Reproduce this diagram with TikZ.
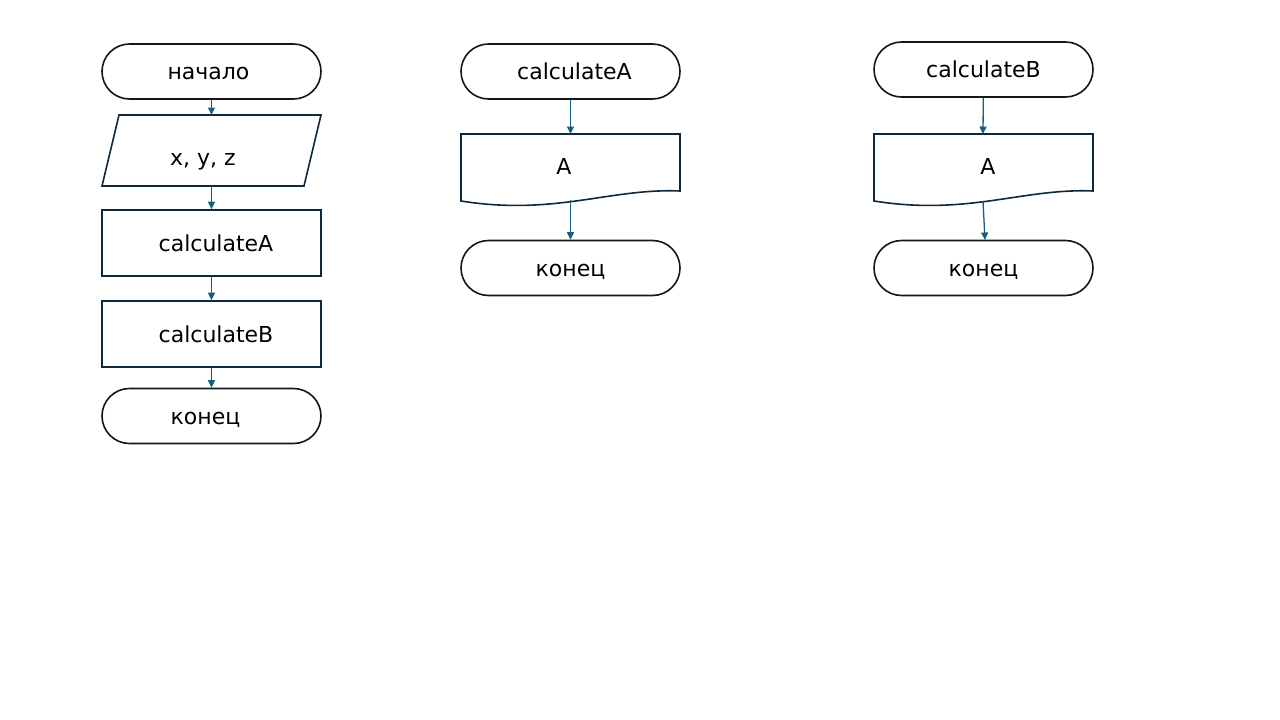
\documentclass[tikz,border=0pt]{standalone}
\usepackage{fontspec}
\setmainfont{DejaVu Sans}
\usetikzlibrary{arrows.meta}

\definecolor{boxline}{HTML}{10293A}
\definecolor{termline}{HTML}{161616}
\definecolor{flowarrow}{HTML}{156082}

\tikzset{
	terminal/.style = {draw = termline, line width = 1.6pt, rounded corners = 27.5pt, minimum width = 219pt, minimum height = 55pt, inner sep = 0pt},
	process/.style = {draw = boxline, line width = 1.6pt, minimum width = 219pt, minimum height = 66pt, inner sep = 0pt},
	shapeline/.style = {draw = boxline, line width = 1.6pt, line join = miter},
	flow/.style = {draw = flowarrow, line width = 1.3pt, -{Triangle[length = 7.5pt, width = 7pt]}},
	txt/.style = {inner sep = 0pt},
}

\begin{document}
\begin{tikzpicture}[x = 1pt, y = -1pt, every node/.append style = {font = \fontsize{22}{26}\selectfont, text height = 18pt, text depth = 2pt}]
			\useasboundingbox (0,0) rectangle (1280,720);

			% main program
			\begin{scope}
				\node [terminal] (start) at (211.5,71.5) {начало\kern6pt};

				\draw [shapeline] (119,115) -- (321,115) -- (304,186) -- (102,186) -- cycle;
				\coordinate (input-top) at (211.5,115);
				\coordinate (input-bot) at (211.5,186);
				\node [txt] (input) at (203,157) {x, y, z};

				\node [process] (callA) at (211.5,243) {\kern9pt calculateA};
				\node [process] (callB) at (211.5,334) {\kern9pt calculateB};
				\node [terminal] (stop) at (211.5,416) {конец\kern12pt};

				\draw [flow] (start) -- (input-top);
				\draw [flow] (input-bot) -- (callA);
				\draw [flow] (callA) -- (callB);
				\draw [flow] (callB) -- (stop);
			\end{scope}

			% calculateA
			\begin{scope}
				\node [terminal] (funA) at (570.5,71.5) {\kern8pt calculateA};

				\draw [shapeline] (461,134) -- (680,134) -- (680,191) .. controls (610,188) and (555,216) .. (461,201) -- cycle;
				\coordinate (docA-top) at (570.5,134);
				\coordinate (docA-bot) at (570.5,200);
				\node [txt] (docA) at (564,166) {A};

				\node [terminal] (endA) at (570.5,268) {конец};

				\draw [flow] (funA) -- (docA-top);
				\draw [flow] (docA-bot) -- (endA);
			\end{scope}

			% calculateB
			\begin{scope}
				\node [terminal] (funB) at (983.5,69.5) {calculateB};

				\draw [shapeline] (874,134) -- (1093,134) -- (1093,191) .. controls (1023,188) and (968,216) .. (874,201) -- cycle;
				\coordinate (docB-top) at (983,134);
				\coordinate (docB-bot) at (983,201);
				\node [txt] (docB) at (988,166) {A};

				\node [terminal] (endB) at (983.5,268) {конец};
				\coordinate (endB-in) at (985,240);

				\draw [flow] (funB) -- (docB-top);
				\draw [flow] (docB-bot) -- (endB-in);
			\end{scope}
		\end{tikzpicture}
\end{document}
